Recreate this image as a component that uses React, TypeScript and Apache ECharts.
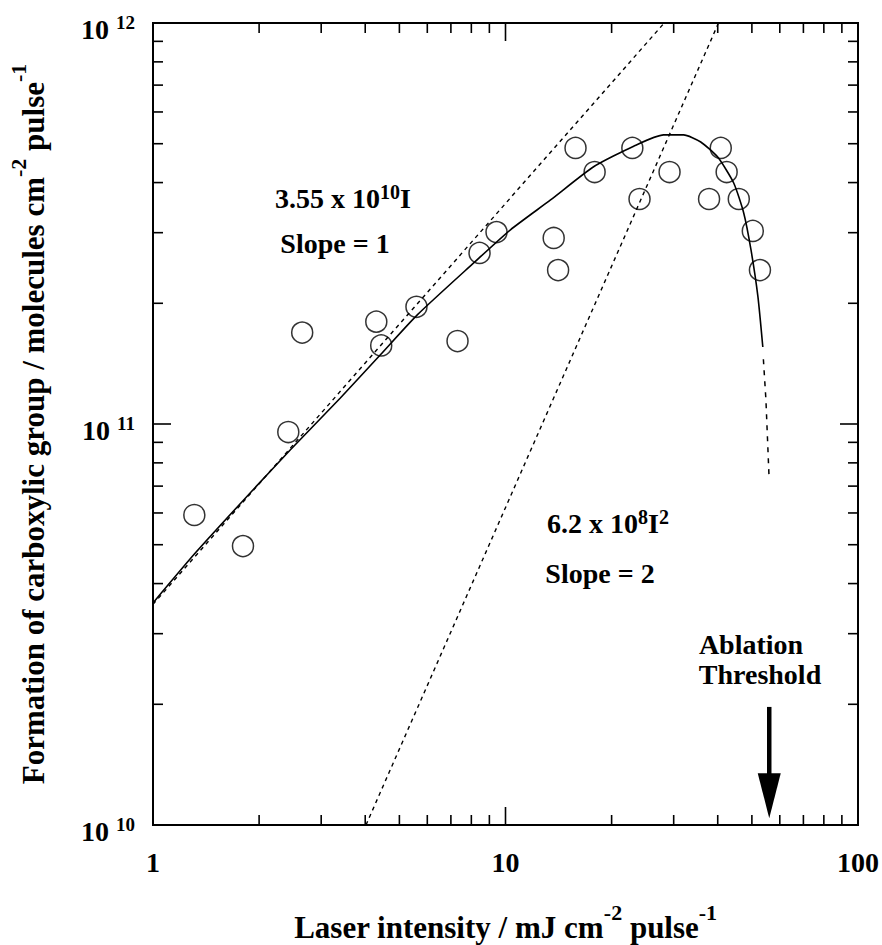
import React, { useEffect, useRef } from 'react';
import * as echarts from 'echarts';

// ---- Data ----
// Measured points (laser intensity in mJ cm^-2 pulse^-1, formation in molecules cm^-2 pulse^-1)
const intensity = [1.31, 1.80, 2.42, 2.65, 4.30, 4.44, 5.59, 7.31, 8.44, 9.43, 13.7, 14.1, 15.8, 17.9, 22.9, 24.0, 29.2, 37.8, 40.8, 42.4, 45.9, 50.3, 52.7];
const formation = [5.93e10, 4.96e10, 9.55e10, 1.69e11, 1.80e11, 1.57e11, 1.96e11, 1.61e11, 2.67e11, 3.01e11, 2.91e11, 2.42e11, 4.88e11, 4.25e11, 4.88e11, 3.64e11, 4.25e11, 3.64e11, 4.88e11, 4.25e11, 3.64e11, 3.03e11, 2.42e11];

// Solid fitted curve
const fitIntensity = [1.0, 1.316, 1.886, 2.45, 3.40, 4.41, 5.62, 8.11, 10.33, 13.42, 17.78, 23.1, 28.1, 32.0, 35.8, 40.0, 44.4, 47.4, 49.7, 52.0, 53.7];
const fitFormation = [3.58e10, 4.76e10, 6.73e10, 8.61e10, 1.161e11, 1.486e11, 1.871e11, 2.518e11, 3.05e11, 3.62e11, 4.38e11, 4.93e11, 5.26e11, 5.26e11, 5.05e11, 4.63e11, 3.99e11, 3.36e11, 2.72e11, 2.08e11, 1.556e11];
// Dashed continuation of the fit
const tailIntensity = [53.9, 54.8, 55.9];
const tailFormation = [1.45e11, 1.15e11, 7.47e10];

// Slope = 1 line (3.55e10 I) endpoints inside the frame
const slope1Intensity = [1, 28.2];
const slope1Formation = [3.55e10, 1e12];
// Slope = 2 line (6.2e8 I^2) endpoints inside the frame
const slope2Intensity = [4.02, 40.2];
const slope2Formation = [1e10, 1e12];

// Ablation threshold arrow
const ablationIntensity = 56;
const ablationArrowFrom = 1.97e10;
const ablationArrowTo = 1.04e10;

// Axes
const xMin = 1;
const xMax = 100;
const yMin = 1e10;
const yMax = 1e12;
const xMajorTicks = [1, 10, 100];
const xMinorTicks = [2, 3, 4, 5, 6, 7, 8, 9, 20, 30, 40, 50, 60, 70, 80, 90];
const yMajorTicks = [1e10, 1e11, 1e12];
const yMinorTicks = [2e10, 3e10, 4e10, 5e10, 6e10, 7e10, 8e10, 9e10, 2e11, 3e11, 4e11, 5e11, 6e11, 7e11, 8e11, 9e11];

const xTitle = 'Laser intensity / mJ cm{s|-2} pulse{s|-1}';
const yTitle = 'Formation of carboxylic group / molecules cm{s|-2} pulse{s|-1}';
const slope1Label = '3.55 x 10{s|10}I';
const slope1Text = 'Slope = 1';
const slope2Label = '6.2 x 10{s|8}I{s|2}';
const slope2Text = 'Slope = 2';
const ablationText1 = 'Ablation';
const ablationText2 = 'Threshold';

const FONT = '"Liberation Serif", "Times New Roman", Times, serif';

const zip = (a: number[], b: number[]) => a.map((v, i) => [v, b[i]]);

export default function App() {
  const ref = useRef<HTMLDivElement>(null);
  useEffect(() => {
    if (!ref.current) return;
    const chart = echarts.init(ref.current, undefined, { renderer: 'svg' });

    const xTickData = [
      ...xMajorTicks.map((v) => [v, yMin, 1]),
      ...xMinorTicks.map((v) => [v, yMin, 0]),
    ];
    const yTickData = [
      ...yMajorTicks.map((v) => [xMin, v, 1]),
      ...yMinorTicks.map((v) => [xMin, v, 0]),
    ];

    const supStyle = (size: number) => ({
      fontSize: size,
      fontWeight: 'bold',
      fontFamily: FONT,
      color: '#000',
      verticalAlign: 'top',
    });

    const annot = (text: string, x: number, y: number) => ({
      type: 'text',
      x,
      y,
      z: 10,
      style: {
        text,
        fontSize: 28,
        fontWeight: 'bold',
        fontFamily: FONT,
        fill: '#000',
        lineHeight: 32,
        align: 'center',
        verticalAlign: 'middle',
        rich: {
          s: { fontSize: 20, fontWeight: 'bold', fontFamily: FONT, fill: '#000', verticalAlign: 'top' },
        },
      },
    });

    const option: any = {
      animation: false,
      backgroundColor: '#fff',
      grid: {
        left: 153,
        top: 23,
        right: 24,
        bottom: 120,
        show: true,
        borderColor: '#000',
        borderWidth: 2,
        backgroundColor: 'transparent',
        containLabel: false,
        outerBoundsMode: 'none',
      },
      xAxis: {
        type: 'log',
        logBase: 10,
        min: xMin,
        max: xMax,
        axisLine: { show: false },
        axisTick: { show: false },
        splitLine: { show: false },
        minorTick: { show: false },
        axisLabel: {
          margin: 23,
          fontSize: 28,
          fontWeight: 'bold',
          fontFamily: FONT,
          color: '#000',
          formatter: (v: number) => String(Math.round(v)),
        },
        name: xTitle,
        nameLocation: 'middle',
        nameGap: 76,
        nameTextStyle: {
          fontSize: 31,
          fontWeight: 'bold',
          fontFamily: FONT,
          color: '#000',
          lineHeight: 52,
          rich: { s: supStyle(22) },
        },
      },
      yAxis: {
        type: 'log',
        logBase: 10,
        min: yMin,
        max: yMax,
        axisLine: { show: false },
        axisTick: { show: false },
        splitLine: { show: false },
        minorTick: { show: false },
        axisLabel: {
          margin: 18,
          padding: [10, 0, 0, 0],
          formatter: (v: number) => `{b|10 }{s|${Math.round(Math.log10(v))}}`,
          rich: {
            b: { fontSize: 28, fontWeight: 'bold', fontFamily: FONT, color: '#000', lineHeight: 30, verticalAlign: 'bottom' },
            s: supStyle(19),
          },
        },
        name: yTitle,
        nameLocation: 'middle',
        nameRotate: 90,
        nameGap: 94,
        nameTextStyle: {
          fontSize: 31,
          fontWeight: 'bold',
          fontFamily: FONT,
          color: '#000',
          lineHeight: 52,
          rich: { s: supStyle(22) },
        },
      },
      graphic: [
        annot(slope1Label, 343, 198),
        annot(slope1Text, 335, 243),
        annot(slope2Label, 608, 523),
        annot(slope2Text, 600, 573),
        annot(ablationText1, 751, 644),
        annot(ablationText2, 760, 674),
      ],
      series: [
        {
          type: 'line',
          name: 'fit',
          data: zip(fitIntensity, fitFormation),
          showSymbol: false,
          smooth: 0.2,
          lineStyle: { color: '#000', width: 1.6 },
          z: 3,
        },
        {
          type: 'line',
          name: 'fitTail',
          data: zip(tailIntensity, tailFormation),
          showSymbol: false,
          lineStyle: { color: '#000', width: 1.5, type: [5, 6] },
          z: 3,
        },
        {
          type: 'line',
          name: 'slope1',
          data: zip(slope1Intensity, slope1Formation),
          showSymbol: false,
          lineStyle: { color: '#000', width: 1.4, type: [4, 4] },
          z: 2,
        },
        {
          type: 'line',
          name: 'slope2',
          data: zip(slope2Intensity, slope2Formation),
          showSymbol: false,
          lineStyle: { color: '#000', width: 1.4, type: [4, 4] },
          z: 2,
        },
        {
          type: 'scatter',
          name: 'data',
          data: zip(intensity, formation),
          symbol: 'circle',
          symbolSize: 21,
          itemStyle: { color: 'rgba(0,0,0,0)', borderColor: '#000', borderWidth: 1.5 },
          z: 5,
        },
        {
          type: 'custom',
          name: 'xTicks',
          clip: false,
          silent: true,
          data: xTickData,
          renderItem: (params: any, api: any) => {
            const x = api.value(0);
            const len = api.value(2) === 1 ? 18 : 10;
            const b = api.coord([x, yMin]);
            const t = api.coord([x, yMax]);
            return {
              type: 'group',
              children: [
                { type: 'line', shape: { x1: b[0], y1: b[1], x2: b[0], y2: b[1] - len }, style: { stroke: '#000', lineWidth: 1.6 } },
                { type: 'line', shape: { x1: t[0], y1: t[1], x2: t[0], y2: t[1] + len }, style: { stroke: '#000', lineWidth: 1.6 } },
              ],
            };
          },
          z: 4,
        },
        {
          type: 'custom',
          name: 'yTicks',
          clip: false,
          silent: true,
          data: yTickData,
          renderItem: (params: any, api: any) => {
            const y = api.value(1);
            const len = api.value(2) === 1 ? 18 : 10;
            const l = api.coord([xMin, y]);
            const r = api.coord([xMax, y]);
            return {
              type: 'group',
              children: [
                { type: 'line', shape: { x1: l[0], y1: l[1], x2: l[0] + len, y2: l[1] }, style: { stroke: '#000', lineWidth: 1.6 } },
                { type: 'line', shape: { x1: r[0], y1: r[1], x2: r[0] - len, y2: r[1] }, style: { stroke: '#000', lineWidth: 1.6 } },
              ],
            };
          },
          z: 4,
        },
        {
          type: 'custom',
          name: 'ablationArrow',
          clip: false,
          silent: true,
          data: [[ablationIntensity, ablationArrowFrom, ablationArrowTo]],
          renderItem: (params: any, api: any) => {
            const x = api.value(0);
            const top = api.coord([x, api.value(1)]);
            const tip = api.coord([x, api.value(2)]);
            const headLen = 45;
            const headHalf = 11.5;
            return {
              type: 'group',
              children: [
                { type: 'line', shape: { x1: top[0], y1: top[1], x2: tip[0], y2: tip[1] - headLen + 2 }, style: { stroke: '#000', lineWidth: 4.5 } },
                {
                  type: 'polygon',
                  shape: { points: [[tip[0], tip[1]], [tip[0] - headHalf, tip[1] - headLen], [tip[0] + headHalf, tip[1] - headLen]] },
                  style: { fill: '#000' },
                },
              ],
            };
          },
          z: 6,
        },
      ],
    };

    chart.setOption(option);
    return () => chart.dispose();
  }, []);

  return (
    <div
      ref={ref}
      style={{ position: 'absolute', left: 0, top: 0, width: 882, height: 945, background: '#fff' }}
    />
  );
}
